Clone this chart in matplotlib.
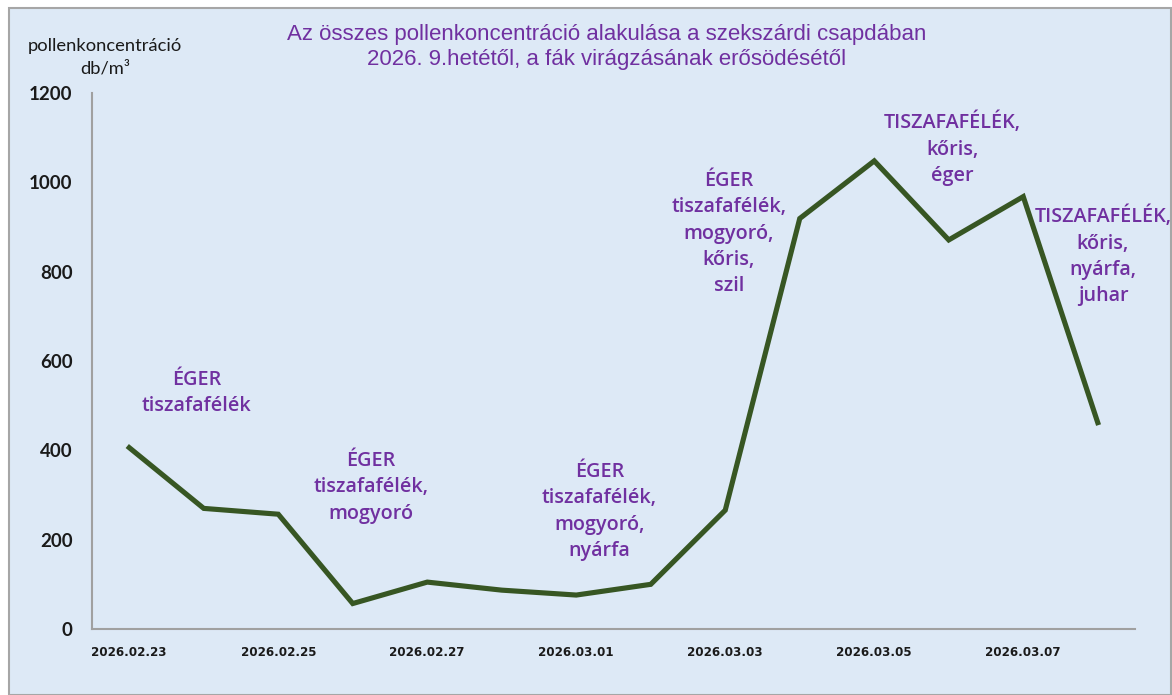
import matplotlib
matplotlib.use("Agg")
import matplotlib.pyplot as plt
from matplotlib.patches import Rectangle

dates = ["2026.02.23", "2026.02.24", "2026.02.25", "2026.02.26", "2026.02.27",
         "2026.02.28", "2026.03.01", "2026.03.02", "2026.03.03", "2026.03.04",
         "2026.03.05", "2026.03.06", "2026.03.07", "2026.03.08"]
values = [406, 270, 257, 57, 105, 87, 76, 100, 266, 919, 1048, 871, 968, 462]
yticks = [0, 200, 400, 600, 800, 1000, 1200]

annot_texts = ["ÉGER\ntiszafafélék",
               "ÉGER\ntiszafafélék,\nmogyoró",
               "ÉGER\ntiszafafélék,\nmogyoró,\nnyárfa",
               "ÉGER\ntiszafafélék,\nmogyoró,\nkőris,\nszil",
               "TISZAFAFÉLÉK,\nkőris,\néger",
               "TISZAFAFÉLÉK,\nkőris,\nnyárfa,\njuhar"]
annot_x = [0.9, 3.24, 6.31, 8.05, 11.05, 13.07]
annot_y = [529, 317, 263, 885, 1075, 835]

title = "Az összes pollenkoncentráció alakulása a szekszárdi csapdában\n2026. 9.hetétől, a fák virágzásának erősödésétől"

purple = "#7030A0"
bg = "#DDE9F6"

fig = plt.figure(figsize=(11.72, 6.95), dpi=100, facecolor="white")
W, H = 1172, 695
fig.patches.append(Rectangle((8.5 / W, 0), (1171 - 8.5) / W, (695 - 7.5) / H,
                             transform=fig.transFigure, facecolor=bg,
                             edgecolor="#A6A6A6", linewidth=1.5, zorder=-5))

ax = fig.add_axes([92 / W, (H - 629) / H, (1135 - 92) / W, (629 - 93) / H])
ax.set_zorder(2)
ax.set_facecolor("none")
x = list(range(len(dates)))
ax.plot(x, values, color="#375623", linewidth=3.7, solid_joinstyle="miter",
        clip_on=False, zorder=3)
ax.set_xlim(-0.5, len(dates) - 0.5)
ax.set_ylim(0, 1200)

ax.set_yticks(yticks)
ax.set_yticklabels([str(v) for v in yticks], fontfamily="Lato",
                   fontweight="bold", fontsize=13.5, color="#1a1a1a")
ax.set_xticks(x[::2])
ax.set_xticklabels(dates[::2], fontfamily="DejaVu Sans", fontweight="bold",
                   fontsize=8.6, color="#1a1a1a")
ax.tick_params(axis="y", length=0, pad=14)
ax.tick_params(axis="x", length=0, pad=12)

for s in ["top", "right"]:
    ax.spines[s].set_visible(False)
for s in ["left", "bottom"]:
    ax.spines[s].set_color("#A0A0A0")
    ax.spines[s].set_linewidth(1.5)

for t, xx, yy in zip(annot_texts, annot_x, annot_y):
    ax.text(xx, yy, t, ha="center", va="center", multialignment="center",
            fontfamily="Open Sans", fontweight="semibold", fontsize=14.2,
            color=purple, linespacing=1.42, zorder=4)

fig.text(607 / W, 1 - 47 / H, title, ha="center", va="center",
         fontfamily="Liberation Sans", fontsize=16, color=purple,
         linespacing=1.2)

fig.text(105 / W, 1 - 57.5 / H, "pollenkoncentráció\ndb/m³", ha="center",
         va="center", fontfamily="Lato", fontsize=13.2, color="#1a1a1a",
         linespacing=1.5)

fig.savefig("out.png", dpi=100, facecolor="white")
